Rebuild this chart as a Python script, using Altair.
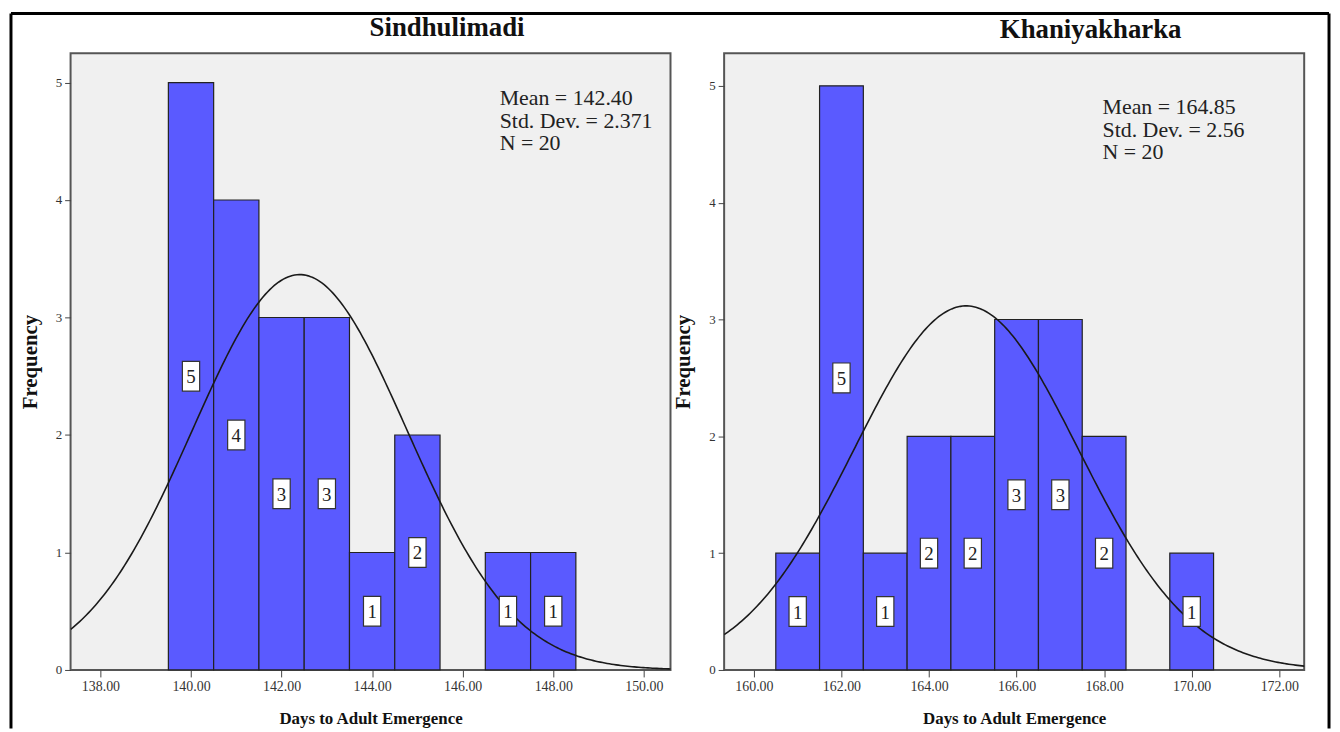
import altair as alt
import pandas as pd

# ---------------- data ----------------
left_title = "Sindhulimadi"
right_title = "Khaniyakharka"
x_title = "Days to Adult Emergence"
y_title = "Frequency"

left_days = [140, 141, 142, 143, 144, 145, 146, 147, 148]
left_freq = [5, 4, 3, 3, 1, 2, 0, 1, 1]
right_days = [161, 162, 163, 164, 165, 166, 167, 168, 169, 170]
right_freq = [1, 5, 1, 2, 2, 3, 3, 2, 0, 1]

left_mean, left_sd, left_n = 142.40, 2.371, 20
right_mean, right_sd, right_n = 164.85, 2.56, 20
left_stats = ["Mean = 142.40", "Std. Dev. = 2.371", "N = 20"]
right_stats = ["Mean = 164.85", "Std. Dev. = 2.56", "N = 20"]

left_ticks = [138, 140, 142, 144, 146, 148, 150]
right_ticks = [160, 162, 164, 166, 168, 170, 172]
y_ticks = [0, 1, 2, 3, 4, 5]

# ---------------- styles ----------------
SERIF = "Liberation Serif"
BAR = "#5a5aff"
PANEL_H = 621


def panel(title, days, freq, mean, sd, n, stats, ticks, xdom, ydom, width,
          text_x, text_y, title_y, frame=False):
    df = pd.DataFrame({"day": days, "freq": freq})
    df = df[df["freq"] > 0]
    base = alt.Chart(df)

    xscale = alt.Scale(domain=xdom, nice=False, zero=False)
    yscale = alt.Scale(domain=ydom, nice=False, zero=False)
    xaxis = alt.Axis(values=ticks, format=".2f", title=x_title, tickSize=7,
                     labelPadding=3, titlePadding=17, labelFontSize=14)
    yaxis = alt.Axis(values=y_ticks, title=y_title, tickSize=6,
                     labelPadding=3, titlePadding=15, labelFontSize=13)

    bars = base.transform_calculate(
        lo="datum.day - 0.5", hi="datum.day + 0.5"
    ).mark_bar(fill=BAR, stroke="#222", strokeWidth=1.2).encode(
        x=alt.X("lo:Q", scale=xscale, axis=xaxis),
        x2="hi:Q",
        y=alt.Y("freq:Q", scale=yscale, axis=yaxis),
        y2=alt.datum(0),
    )

    curve = alt.Chart(
        alt.sequence(start=xdom[0], stop=xdom[1] + 0.05, step=0.05, as_="xv")
    ).transform_calculate(
        yv=f"{n} * densityNormal(datum.xv, {mean}, {sd})"
    ).mark_line(color="#1a1a1a", strokeWidth=1.6, clip=True).encode(
        x=alt.X("xv:Q", scale=xscale, axis=xaxis),
        y=alt.Y("yv:Q", scale=yscale, axis=yaxis),
    )

    boxes = base.transform_calculate(mid="datum.freq / 2").mark_point(
        shape="M-0.58,-1H0.58V1H-0.58Z", size=900, filled=True,
        fill="white", stroke="#333", strokeWidth=1.2, opacity=1,
    ).encode(
        x=alt.X("day:Q", scale=xscale, axis=xaxis),
        y=alt.Y("mid:Q", scale=yscale, axis=yaxis),
    )

    labels = base.transform_calculate(mid="datum.freq / 2").mark_text(
        font=SERIF, fontSize=19, color="#222", baseline="middle", dy=1,
    ).encode(
        x=alt.X("day:Q", scale=xscale, axis=xaxis),
        y=alt.Y("mid:Q", scale=yscale, axis=yaxis),
        text="freq:Q",
    )

    stat_text = alt.Chart(pd.DataFrame({"t": ["\n".join(stats)]})).mark_text(
        font=SERIF, fontSize=22, color="#222", align="left", baseline="top",
        lineBreak="\n", lineHeight=23,
    ).encode(x=alt.value(text_x), y=alt.value(text_y), text="t:N")

    title_text = alt.Chart(pd.DataFrame({"t": [title]})).mark_text(
        font=SERIF, fontSize=27, fontWeight="bold", color="#111",
        align="center", baseline="middle",
    ).encode(x=alt.value(width / 2 + 77), y=alt.value(title_y), text="t:N")

    layers = [bars, curve, boxes, labels, stat_text, title_text]

    if frame:
        one = alt.Chart(pd.DataFrame({"a": [0]}))
        fr = dict(color="black", strokeWidth=3)
        layers += [
            one.mark_rule(**fr).encode(x=alt.value(-60), x2=alt.value(1267),
                                       y=alt.value(-40)),
            one.mark_rule(**fr).encode(x=alt.value(-60), y=alt.value(-40),
                                       y2=alt.value(680)),
            one.mark_rule(**fr).encode(x=alt.value(1267), y=alt.value(-40),
                                       y2=alt.value(680)),
        ]

    return alt.layer(*layers).properties(width=width, height=PANEL_H)


left = panel(left_title, left_days, left_freq, left_mean, left_sd, left_n,
             left_stats, left_ticks, [137.34, 150.59], [0, 5.25], 604,
             432, 35, -25, frame=True)
right = panel(right_title, right_days, right_freq, right_mean, right_sd,
              right_n, right_stats, right_ticks, [159.32, 172.57], [0, 5.28],
              584, 381, 44, -23)

chart = alt.hconcat(left, right, spacing=54, bounds="flush", padding=0).configure_view(
    fill="#f0f0f0", stroke="#555555", strokeWidth=2
).configure_axis(
    labelFont=SERIF, labelColor="#333", titleFont=SERIF, titleFontWeight="bold",
    titleColor="#111", titleFontSize=17, tickColor="#444", domain=False,
    grid=False,
).configure_axisY(titleFontSize=21)

chart.save("out.html", embed_options={"renderer": "svg", "actions": False})
